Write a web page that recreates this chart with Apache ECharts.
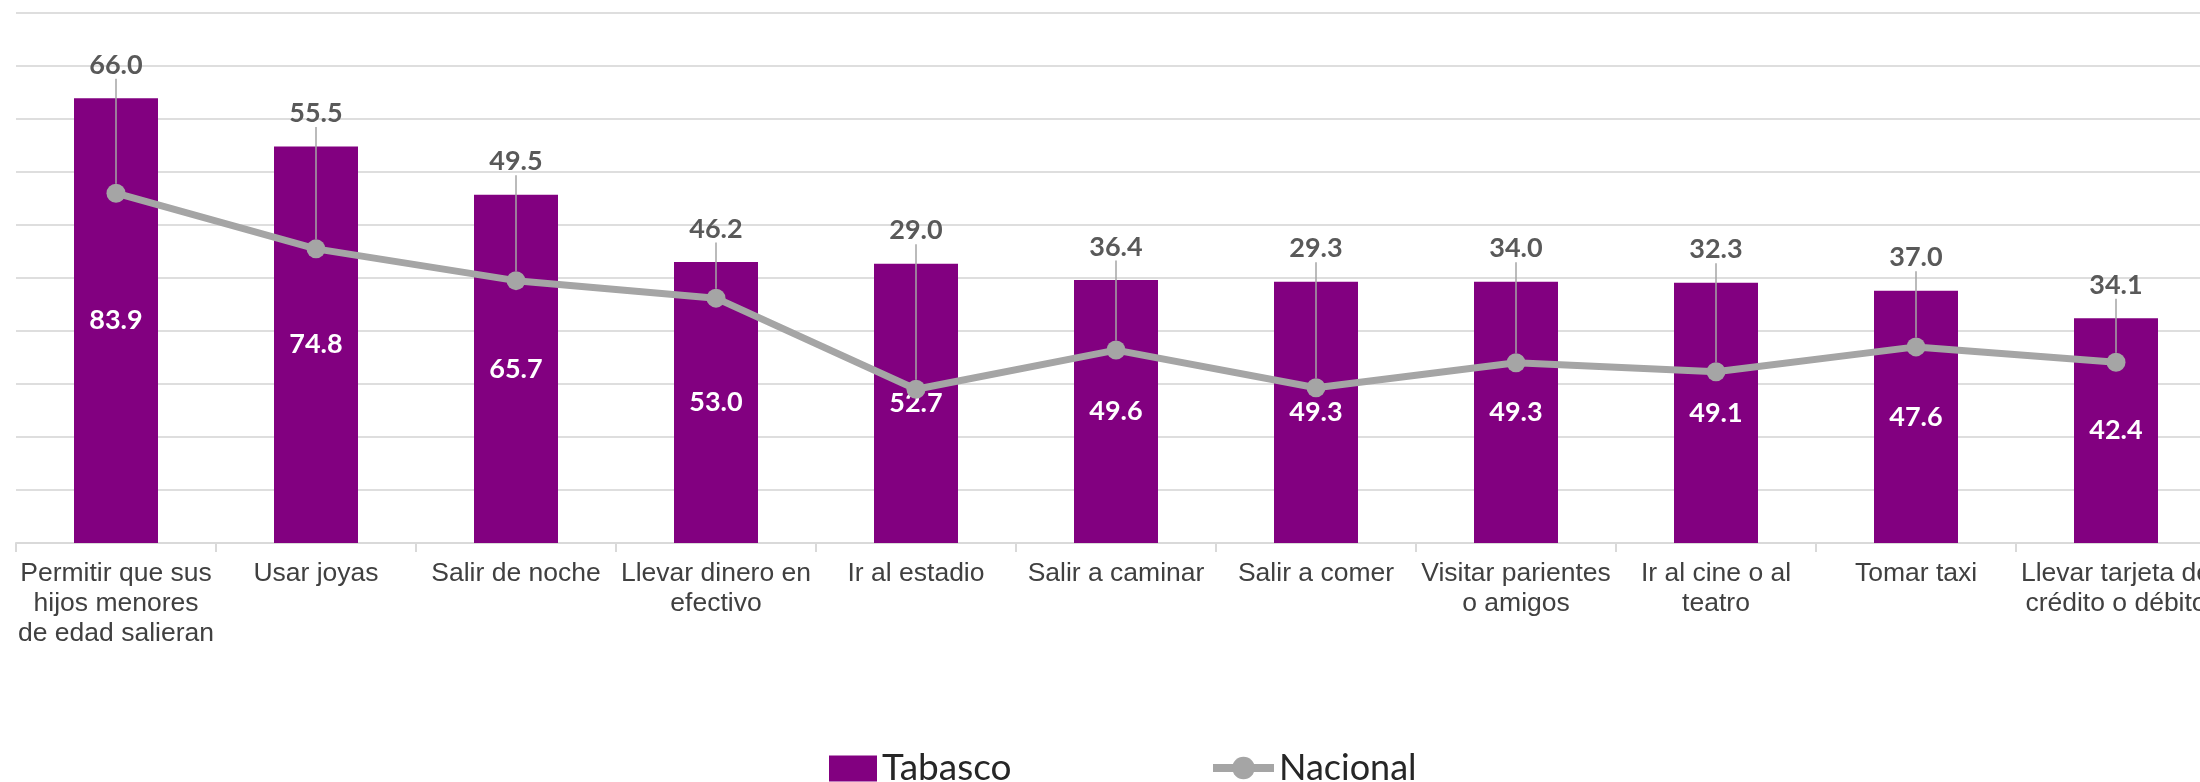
<!DOCTYPE html>
<html><head><meta charset="utf-8">
<script src="https://cdn.jsdelivr.net/npm/echarts@6/dist/echarts.min.js"></script>
<style>html,body{margin:0;padding:0;background:#fff;overflow:hidden}#c{width:2216px;height:782px}</style>
</head><body><div id="c"></div>
<script>
const categories = [
  'Permitir que sus\nhijos menores\nde edad salieran',
  'Usar joyas',
  'Salir de noche',
  'Llevar dinero en\nefectivo',
  'Ir al estadio',
  'Salir a caminar',
  'Salir a comer',
  'Visitar parientes\no amigos',
  'Ir al cine o al\nteatro',
  'Tomar taxi',
  'Llevar tarjeta de\ncrédito o débito'
];
const tabasco = [83.9, 74.8, 65.7, 53.0, 52.7, 49.6, 49.3, 49.3, 49.1, 47.6, 42.4];
const nacional = [66.0, 55.5, 49.5, 46.2, 29.0, 36.4, 29.3, 34.0, 32.3, 37.0, 34.1];
const yTicks = {min: 0, max: 100, interval: 10};

const chart = echarts.init(document.getElementById('c'), null, {renderer: 'canvas'});
const option = {
  animation: false,
  backgroundColor: '#ffffff',
  grid: {left: 16, right: 0, top: 13, bottom: 239, containLabel: false},
  xAxis: {
    type: 'category', data: categories,
    axisLine: {lineStyle: {color: '#d9d9d9', width: 2}},
    axisTick: {show: true, length: 9, lineStyle: {color: '#d9d9d9', width: 2}},
    axisLabel: {interval: 0, margin: 16, fontFamily: 'Liberation Sans', fontSize: 26.5, lineHeight: 30, color: '#404040'}
  },
  yAxis: {
    type: 'value', min: yTicks.min, max: yTicks.max, interval: yTicks.interval,
    axisLabel: {show: false}, axisLine: {show: false}, axisTick: {show: false},
    splitLine: {lineStyle: {color: '#dedede', width: 2}}
  },
  legend: [
    {data: [{name: 'Tabasco', icon: 'rect'}], left: 829, top: 750, itemWidth: 48, itemHeight: 26, itemGap: 0, padding: 0,
     textStyle: {fontFamily: 'Lato', fontSize: 37, lineHeight: 36, color: '#262626'}},
    {data: [{name: 'Nacional', lineStyle: {width: 8}}], left: 1209, top: 750, itemWidth: 61, itemHeight: 28, itemGap: 0, padding: 0,
     textStyle: {fontFamily: 'Lato', fontSize: 36, lineHeight: 36, color: '#262626'}}
  ],
  series: [
    {
      name: 'Tabasco', type: 'bar', data: tabasco, barWidth: '42%', z: 2,
      itemStyle: {color: '#820080'},
      label: {show: true, position: 'inside', color: '#ffffff', fontFamily: 'Lato', fontWeight: 'bold', fontSize: 27,
              formatter: p => Number(p.value).toFixed(1)}
    },
    {
      name: 'Nacional', type: 'line', data: nacional, z: 3,
      symbol: 'circle', symbolSize: 19,
      lineStyle: {color: '#a5a5a5', width: 7},
      itemStyle: {color: '#a5a5a5'},
      label: {show: true, position: 'top', color: '#595959', fontFamily: 'Lato', fontWeight: 'bold', fontSize: 27,
              formatter: p => Number(p.value).toFixed(1)},
      labelLine: {show: true, lineStyle: {color: '#a5a5a5', width: 1.5}},
      labelLayout: function (params) {
        const i = params.dataIndex;
        const pt = chart.convertToPixel({seriesIndex: 0}, [i, tabasco[i]]);
        return {x: pt[0], y: pt[1] - 33, align: 'center', verticalAlign: 'middle'};
      }
    }
  ]
};
chart.setOption(option);
</script>
</body></html>
